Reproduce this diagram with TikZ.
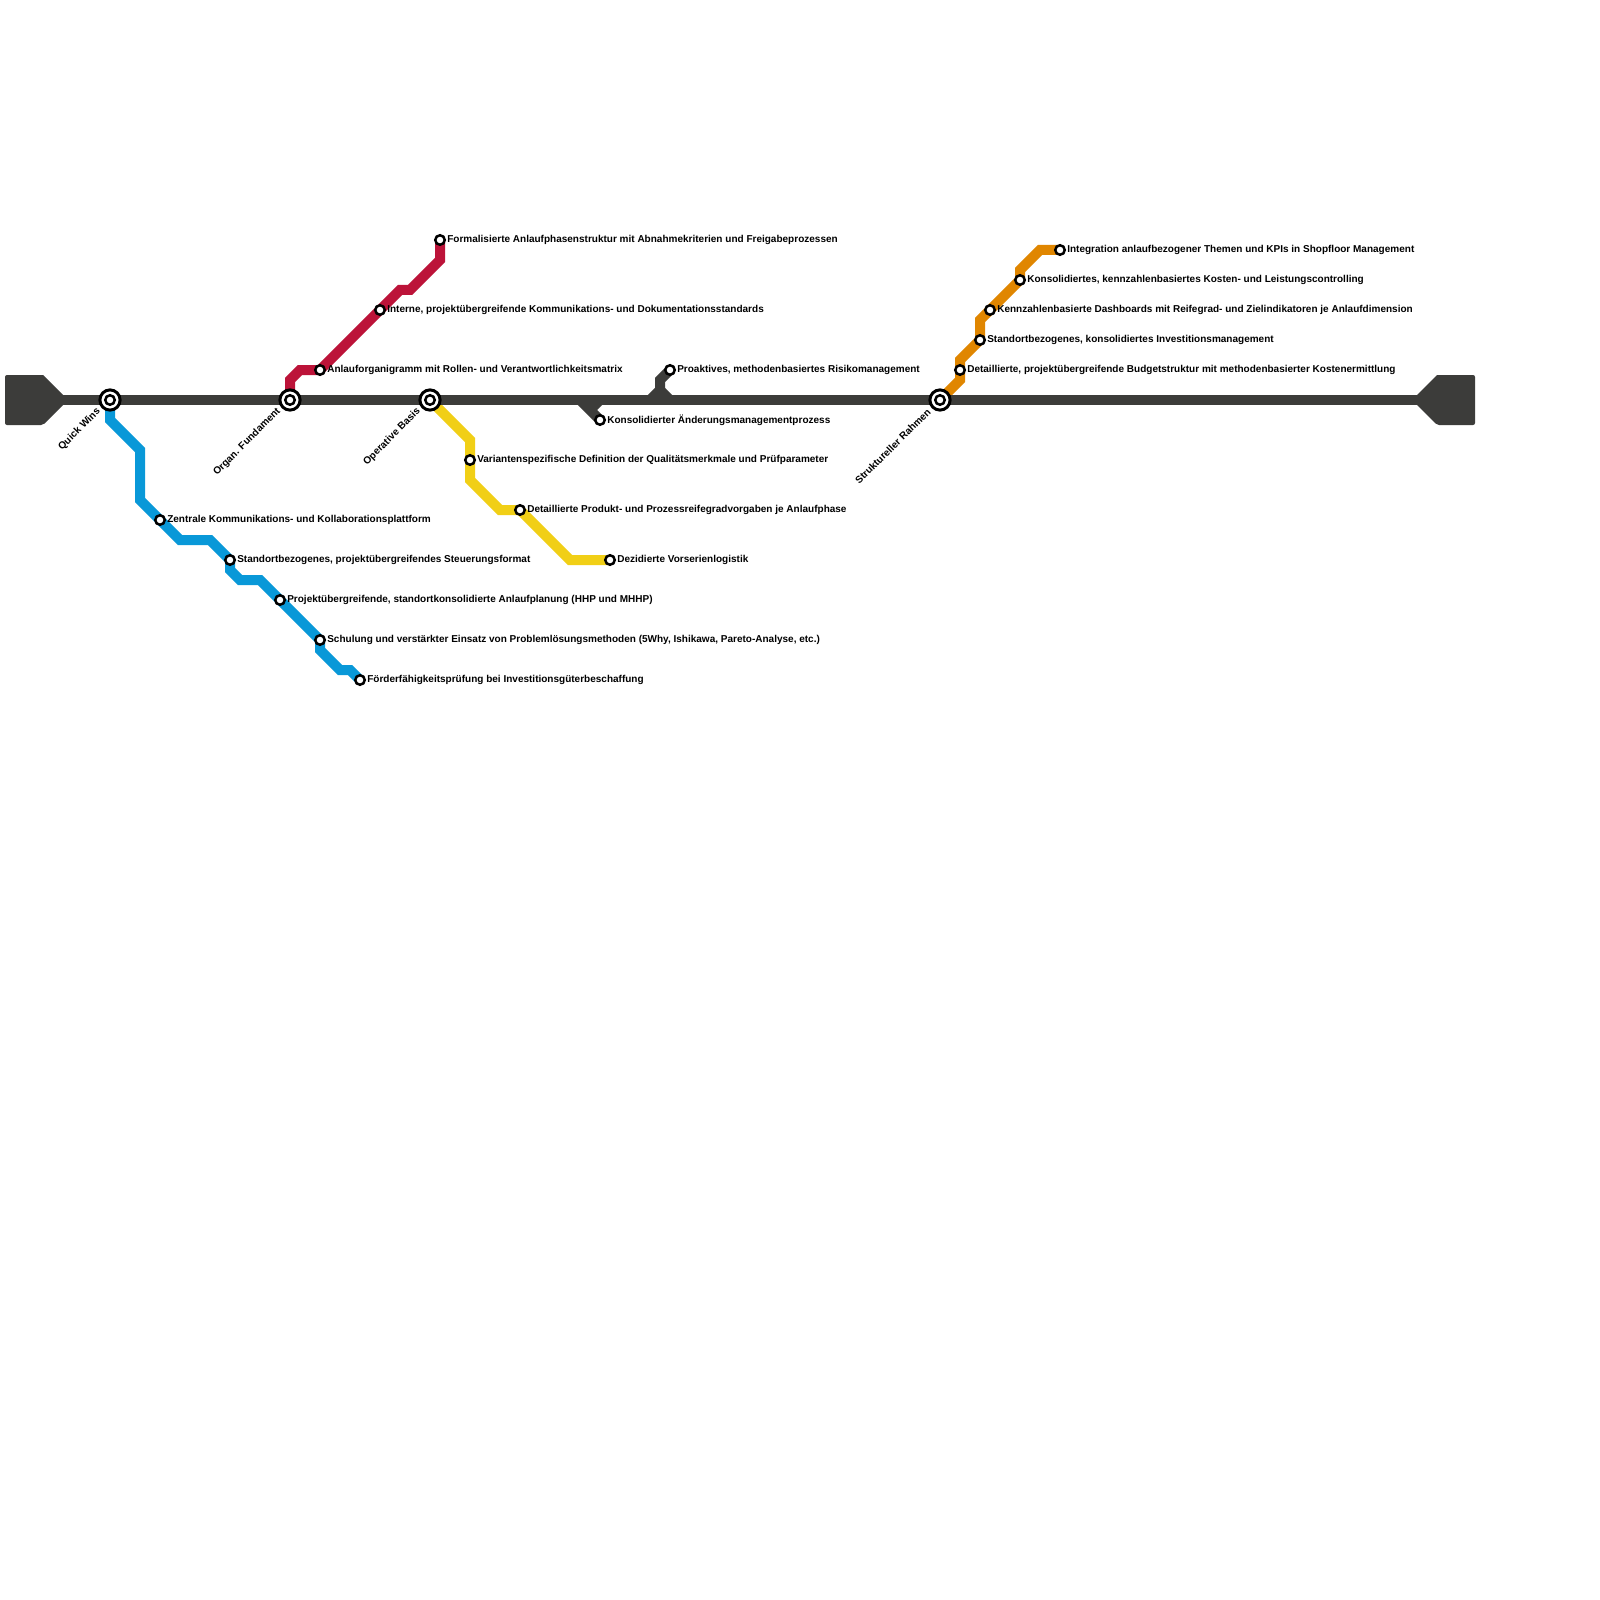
\documentclass[tikz,border=0pt]{standalone}
\usepackage{fontspec}
\setsansfont{Liberation Sans}
\usepackage{tikz}
\usetikzlibrary{positioning, backgrounds}
\definecolor{lineblue}{RGB}{9,152,216}
\definecolor{linered}{RGB}{188,19,57}
\definecolor{lineyellow}{RGB}{241,207,22}
\definecolor{lineorange}{RGB}{224,134,0}
\definecolor{linedark}{RGB}{60,60,58}
\tikzset{
    metroline/.style={draw=#1, line width=2.5mm, line join=miter},
    metrostop/.style={circle, draw=black, fill=white, line width=0.62mm, minimum size=2.38mm, inner sep=0pt},
    metrohub/.style={circle, draw=black, fill=white, line width=0.75mm, minimum size=5.05mm, inner sep=0pt},
    stoplabel/.style={font=\sffamily\bfseries\fontsize{7.12}{8}\selectfont, text=black, inner sep=0pt, yshift=-0.06mm},
    hublabel/.style={font=\sffamily\bfseries\fontsize{7.12}{8}\selectfont, text=black, inner sep=0pt, anchor=east, rotate=45}
}

\begin{document}
\begin{tikzpicture}[x=0.25mm, y=-0.25mm]
\useasboundingbox (0,0) rectangle (1600,1600);

% hubs on the main line
\coordinate (startend) at (50,400);
\coordinate (stopend) at (1430,400);
\node[metrohub] (quick) at (110,400) {};
\node[metrohub] (organ) at (290,400) {};
\node[metrohub] (basis) at (430,400) {};
\node[metrohub] (rahmen) at (940,400) {};
\node[metrostop] (quickin) at (quick) {};
\node[metrostop] (organin) at (organ) {};
\node[metrostop] (basisin) at (basis) {};
\node[metrostop] (rahmenin) at (rahmen) {};
\node[hublabel] (quicktxt) at (99,410) {Quick Wins};
\node[hublabel] (organtxt) at (279,410) {Organ. Fundament};
\node[hublabel] (basistxt) at (419,410) {Operative Basis};
\node[hublabel] (rahmentxt) at (929,410) {Struktureller Rahmen};

% blue
\node[metrostop] (blueA) at (160,520) {};
\node[metrostop] (blueB) at (230,560) {};
\node[metrostop] (blueC) at (280,600) {};
\node[metrostop] (blueD) at (320,640) {};
\node[metrostop] (blueE) at (360,680) {};
\node[stoplabel, right=0.25mm of blueA] (blueAtxt) {Zentrale Kommunikations- und Kollaborationsplattform};
\node[stoplabel, right=0.25mm of blueB] (blueBtxt) {Standortbezogenes, projektübergreifendes Steuerungsformat};
\node[stoplabel, right=0.25mm of blueC] (blueCtxt) {Projektübergreifende, standortkonsolidierte Anlaufplanung (HHP und MHHP)};
\node[stoplabel, right=0.25mm of blueD] (blueDtxt) {Schulung und verstärkter Einsatz von Problemlösungsmethoden (5Why, Ishikawa, Pareto-Analyse, etc.)};
\node[stoplabel, right=0.25mm of blueE] (blueEtxt) {Förderfähigkeitsprüfung bei Investitionsgüterbeschaffung};

% red
\node[metrostop] (redA) at (320,370) {};
\node[metrostop] (redB) at (380,310) {};
\node[metrostop] (redC) at (440,240) {};
\node[stoplabel, right=0.25mm of redA] (redAtxt) {Anlauforganigramm mit Rollen- und Verantwortlichkeitsmatrix};
\node[stoplabel, right=0.25mm of redB] (redBtxt) {Interne, projektübergreifende Kommunikations- und Dokumentationsstandards};
\node[stoplabel, right=0.25mm of redC] (redCtxt) {Formalisierte Anlaufphasenstruktur mit Abnahmekriterien und Freigabeprozessen};

% yellow
\node[metrostop] (yellowA) at (470,460) {};
\node[metrostop] (yellowB) at (520,510) {};
\node[metrostop] (yellowC) at (610,560) {};
\node[stoplabel, right=0.25mm of yellowA] (yellowAtxt) {Variantenspezifische Definition der Qualitätsmerkmale und Prüfparameter};
\node[stoplabel, right=0.25mm of yellowB] (yellowBtxt) {Detaillierte Produkt- und Prozessreifegradvorgaben je Anlaufphase};
\node[stoplabel, right=0.25mm of yellowC] (yellowCtxt) {Dezidierte Vorserienlogistik};

% dark branches
\node[metrostop] (darkA) at (600,420) {};
\node[metrostop] (darkB) at (670,370) {};
\node[stoplabel, right=0.25mm of darkA] (darkAtxt) {Konsolidierter Änderungsmanagementprozess};
\node[stoplabel, right=0.25mm of darkB] (darkBtxt) {Proaktives, methodenbasiertes Risikomanagement};

% orange
\node[metrostop] (orangeA) at (960,370) {};
\node[metrostop] (orangeB) at (980,340) {};
\node[metrostop] (orangeC) at (990,310) {};
\node[metrostop] (orangeD) at (1020,280) {};
\node[metrostop] (orangeE) at (1060,250) {};
\node[stoplabel, right=0.25mm of orangeA] (orangeAtxt) {Detaillierte, projektübergreifende Budgetstruktur mit methodenbasierter Kostenermittlung};
\node[stoplabel, right=0.25mm of orangeB] (orangeBtxt) {Standortbezogenes, konsolidiertes Investitionsmanagement};
\node[stoplabel, right=0.25mm of orangeC] (orangeCtxt) {Kennzahlenbasierte Dashboards mit Reifegrad- und Zielindikatoren je Anlaufdimension};
\node[stoplabel, right=0.25mm of orangeD] (orangeDtxt) {Konsolidiertes, kennzahlenbasiertes Kosten- und Leistungscontrolling};
\node[stoplabel, right=0.25mm of orangeE] (orangeEtxt) {Integration anlaufbezogener Themen und KPIs in Shopfloor Management};

\begin{scope}[on background layer]
\fill[white] (0,0) rectangle (1600,1600);
\draw[metroline=lineblue] (quick.center) -- (110,420) -- (140,450) -- (140,500) -- (blueA.center) -- (180,540) -- (210,540) -- (blueB.center) -- (230,570) -- (240,580) -- (260,580) -- (blueC.center) -- (blueD.center) -- (320,650) -- (340,670) -- (350,670) -- (blueE.center);
\draw[metroline=linered] (organ.center) -- (290,380) -- (300,370) -- (redA.center) -- (redB.center) -- (400,290) -- (410,290) -- (440,260) -- (redC.center);
\draw[metroline=lineyellow] (basis.center) -- (470,440) -- (yellowA.center) -- (470,480) -- (500,510) -- (yellowB.center) -- (570,560) -- (yellowC.center);
\draw[metroline=lineorange] (rahmen.center) -- (960,380) -- (orangeA.center) -- (960,360) -- (orangeB.center) -- (980,320) -- (orangeC.center) -- (orangeD.center) -- (1020,270) -- (1040,250) -- (orangeE.center);
\draw[metroline=linedark] (580,400) -- (darkA.center);
\draw[metroline=linedark] (590,410) -- (600,400);
\draw[metroline=linedark] (650,400) -- (660,390) -- (660,380) -- (darkB.center);
\draw[metroline=linedark] (660,390) -- (670,400);
\draw[metroline=linedark] (startend) -- (stopend);
\fill[linedark, rounded corners=0.5mm] (43,375) -- (5,375) -- (5,425) -- (43,425) [sharp corners] -- (63,405) -- (63,395) -- cycle;
\fill[linedark, rounded corners=0.5mm] (1437,375) -- (1475,375) -- (1475,425) -- (1437,425) [sharp corners] -- (1417,405) -- (1417,395) -- cycle;
\end{scope}

\end{tikzpicture}
\end{document}
